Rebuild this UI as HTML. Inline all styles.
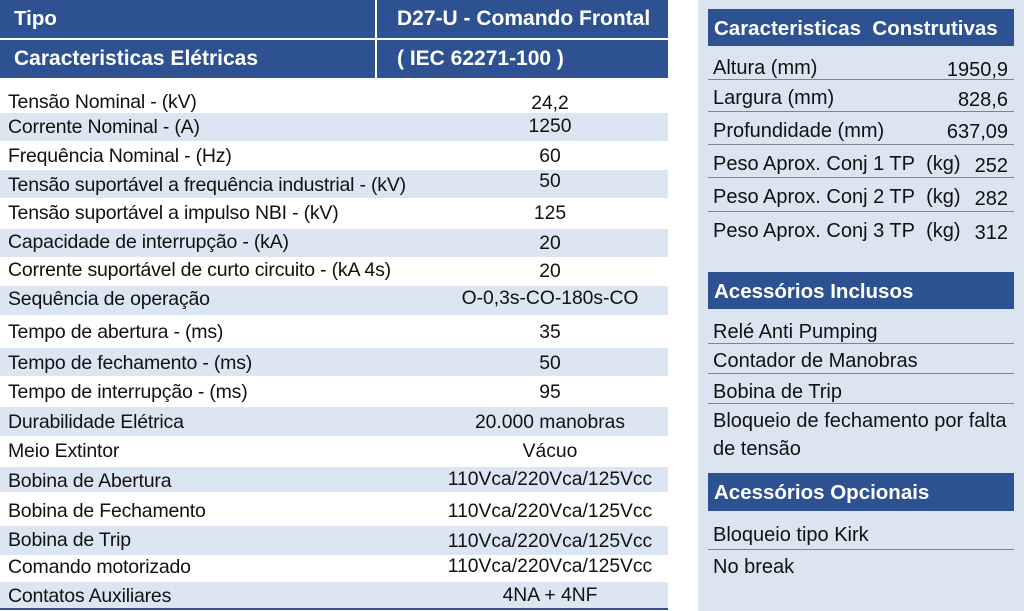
<!DOCTYPE html>
<html><head><meta charset="utf-8"><style>
body{margin:0;width:1024px;height:611px;background:#fff;position:relative;overflow:hidden;font-family:"Liberation Sans",sans-serif;color:#111}
.a{position:absolute}
.hd{background:#2e5291;color:#fff;font-weight:bold;font-size:20.5px;line-height:38px;white-space:nowrap}
.st{background:#dce6f2;left:0;width:668px}
.t{position:absolute;left:8px;font-size:19.5px;line-height:20px;white-space:nowrap;letter-spacing:-0.2px}
.v{position:absolute;left:420px;width:260px;text-align:center;font-size:19.3px;line-height:20px;white-space:nowrap}
.rp{left:698px;top:0;width:326px;height:611px;background:#dbe5f1}
.rt{position:absolute;left:713px;font-size:20px;line-height:22px;white-space:nowrap}
.rv{position:absolute;right:16px;font-size:20px;line-height:22px}
.ln{position:absolute;left:708px;width:306px;height:1px;background:#7f8590}
</style></head><body>
<div class="a hd" style="left:0;top:0;width:375px;height:38px;padding-left:14px;box-sizing:border-box">Tipo</div>
<div class="a hd" style="left:377px;top:0;width:291px;height:38px;padding-left:20px;box-sizing:border-box;font-size:21px">D27-U - Comando Frontal</div>
<div class="a hd" style="left:0;top:40px;width:375px;height:38px;padding-left:14px;box-sizing:border-box;font-size:21px">Caracteristicas Elétricas</div>
<div class="a hd" style="left:377px;top:40px;width:291px;height:38px;padding-left:20px;box-sizing:border-box;font-size:21px">( IEC 62271-100 )</div>

<div class="a st" style="top:113px;height:28px"></div>
<div class="a st" style="top:170px;height:28px"></div>
<div class="a st" style="top:229px;height:28px"></div>
<div class="a st" style="top:286px;height:29px"></div>
<div class="a st" style="top:348px;height:28px"></div>
<div class="a st" style="top:407px;height:29px"></div>
<div class="a st" style="top:467px;height:25px"></div>
<div class="a st" style="top:526px;height:29px"></div>
<div class="a st" style="top:582px;height:27px"></div>
<div class="a" style="left:0;top:608px;width:668px;height:2px;background:#2e5291"></div>

<div class="t" style="top:92px">Tensão Nominal - (kV)</div><div class="v" style="top:94px">24,2</div>
<div class="t" style="top:117px">Corrente Nominal - (A)</div><div class="v" style="top:117px">1250</div>
<div class="t" style="top:146px">Frequência Nominal - (Hz)</div><div class="v" style="top:147px">60</div>
<div class="t" style="top:175px">Tensão suportável a frequência industrial - (kV)</div><div class="v" style="top:172px">50</div>
<div class="t" style="top:203px">Tensão suportável a impulso NBI - (kV)</div><div class="v" style="top:204px">125</div>
<div class="t" style="top:232px">Capacidade de interrupção - (kA)</div><div class="v" style="top:234px">20</div>
<div class="t" style="top:260px">Corrente suportável de curto circuito - (kA 4s)</div><div class="v" style="top:262px">20</div>
<div class="t" style="top:289px">Sequência de operação</div><div class="v" style="top:289px">O-0,3s-CO-180s-CO</div>
<div class="t" style="top:322px">Tempo de abertura - (ms)</div><div class="v" style="top:323px">35</div>
<div class="t" style="top:353px">Tempo de fechamento - (ms)</div><div class="v" style="top:354px">50</div>
<div class="t" style="top:382px">Tempo de interrupção - (ms)</div><div class="v" style="top:383px">95</div>
<div class="t" style="top:412px">Durabilidade Elétrica</div><div class="v" style="top:413px">20.000 manobras</div>
<div class="t" style="top:441px">Meio Extintor</div><div class="v" style="top:442px">Vácuo</div>
<div class="t" style="top:471px">Bobina de Abertura</div><div class="v" style="top:470px">110Vca/220Vca/125Vcc</div>
<div class="t" style="top:501px">Bobina de Fechamento</div><div class="v" style="top:502px">110Vca/220Vca/125Vcc</div>
<div class="t" style="top:530px">Bobina de Trip</div><div class="v" style="top:532px">110Vca/220Vca/125Vcc</div>
<div class="t" style="top:557px">Comando motorizado</div><div class="v" style="top:557px">110Vca/220Vca/125Vcc</div>
<div class="t" style="top:586px">Contatos Auxiliares</div><div class="v" style="top:586px">4NA + 4NF</div>

<div class="a rp"></div>
<div class="a hd" style="left:708px;top:9px;width:306px;height:37px;line-height:40px;padding-left:6px;box-sizing:border-box">Caracteristicas&nbsp; Construtivas</div>
<div class="rt" style="top:57px">Altura (mm)</div><div class="rv" style="top:59px">1950,9</div>
<div class="ln" style="top:79px"></div>
<div class="rt" style="top:87px">Largura (mm)</div><div class="rv" style="top:89px">828,6</div>
<div class="ln" style="top:111px"></div>
<div class="rt" style="top:120px">Profundidade (mm)</div><div class="rv" style="top:121px">637,09</div>
<div class="ln" style="top:144px"></div>
<div class="rt" style="top:153px">Peso Aprox. Conj 1 TP&nbsp; (kg)</div><div class="rv" style="top:155px">252</div>
<div class="ln" style="top:177px"></div>
<div class="rt" style="top:186px">Peso Aprox. Conj 2 TP&nbsp; (kg)</div><div class="rv" style="top:188px">282</div>
<div class="ln" style="top:211px"></div>
<div class="rt" style="top:220px">Peso Aprox. Conj 3 TP&nbsp; (kg)</div><div class="rv" style="top:222px">312</div>
<div class="a hd" style="left:708px;top:272px;width:306px;height:37px;line-height:40px;padding-left:6px;box-sizing:border-box">Acessórios Inclusos</div>
<div class="rt" style="top:321px">Relé Anti Pumping</div>
<div class="ln" style="top:343px"></div>
<div class="rt" style="top:350px">Contador de Manobras</div>
<div class="ln" style="top:373px"></div>
<div class="rt" style="top:381px">Bobina de Trip</div>
<div class="ln" style="top:403px"></div>
<div class="rt" style="top:410px">Bloqueio de fechamento por falta</div>
<div class="rt" style="top:438px">de tensão</div>
<div class="a hd" style="left:708px;top:473px;width:306px;height:38px;line-height:40px;padding-left:6px;box-sizing:border-box">Acessórios Opcionais</div>
<div class="rt" style="top:524px">Bloqueio tipo Kirk</div>
<div class="ln" style="top:549px"></div>
<div class="rt" style="top:556px">No break</div>
</body></html>
